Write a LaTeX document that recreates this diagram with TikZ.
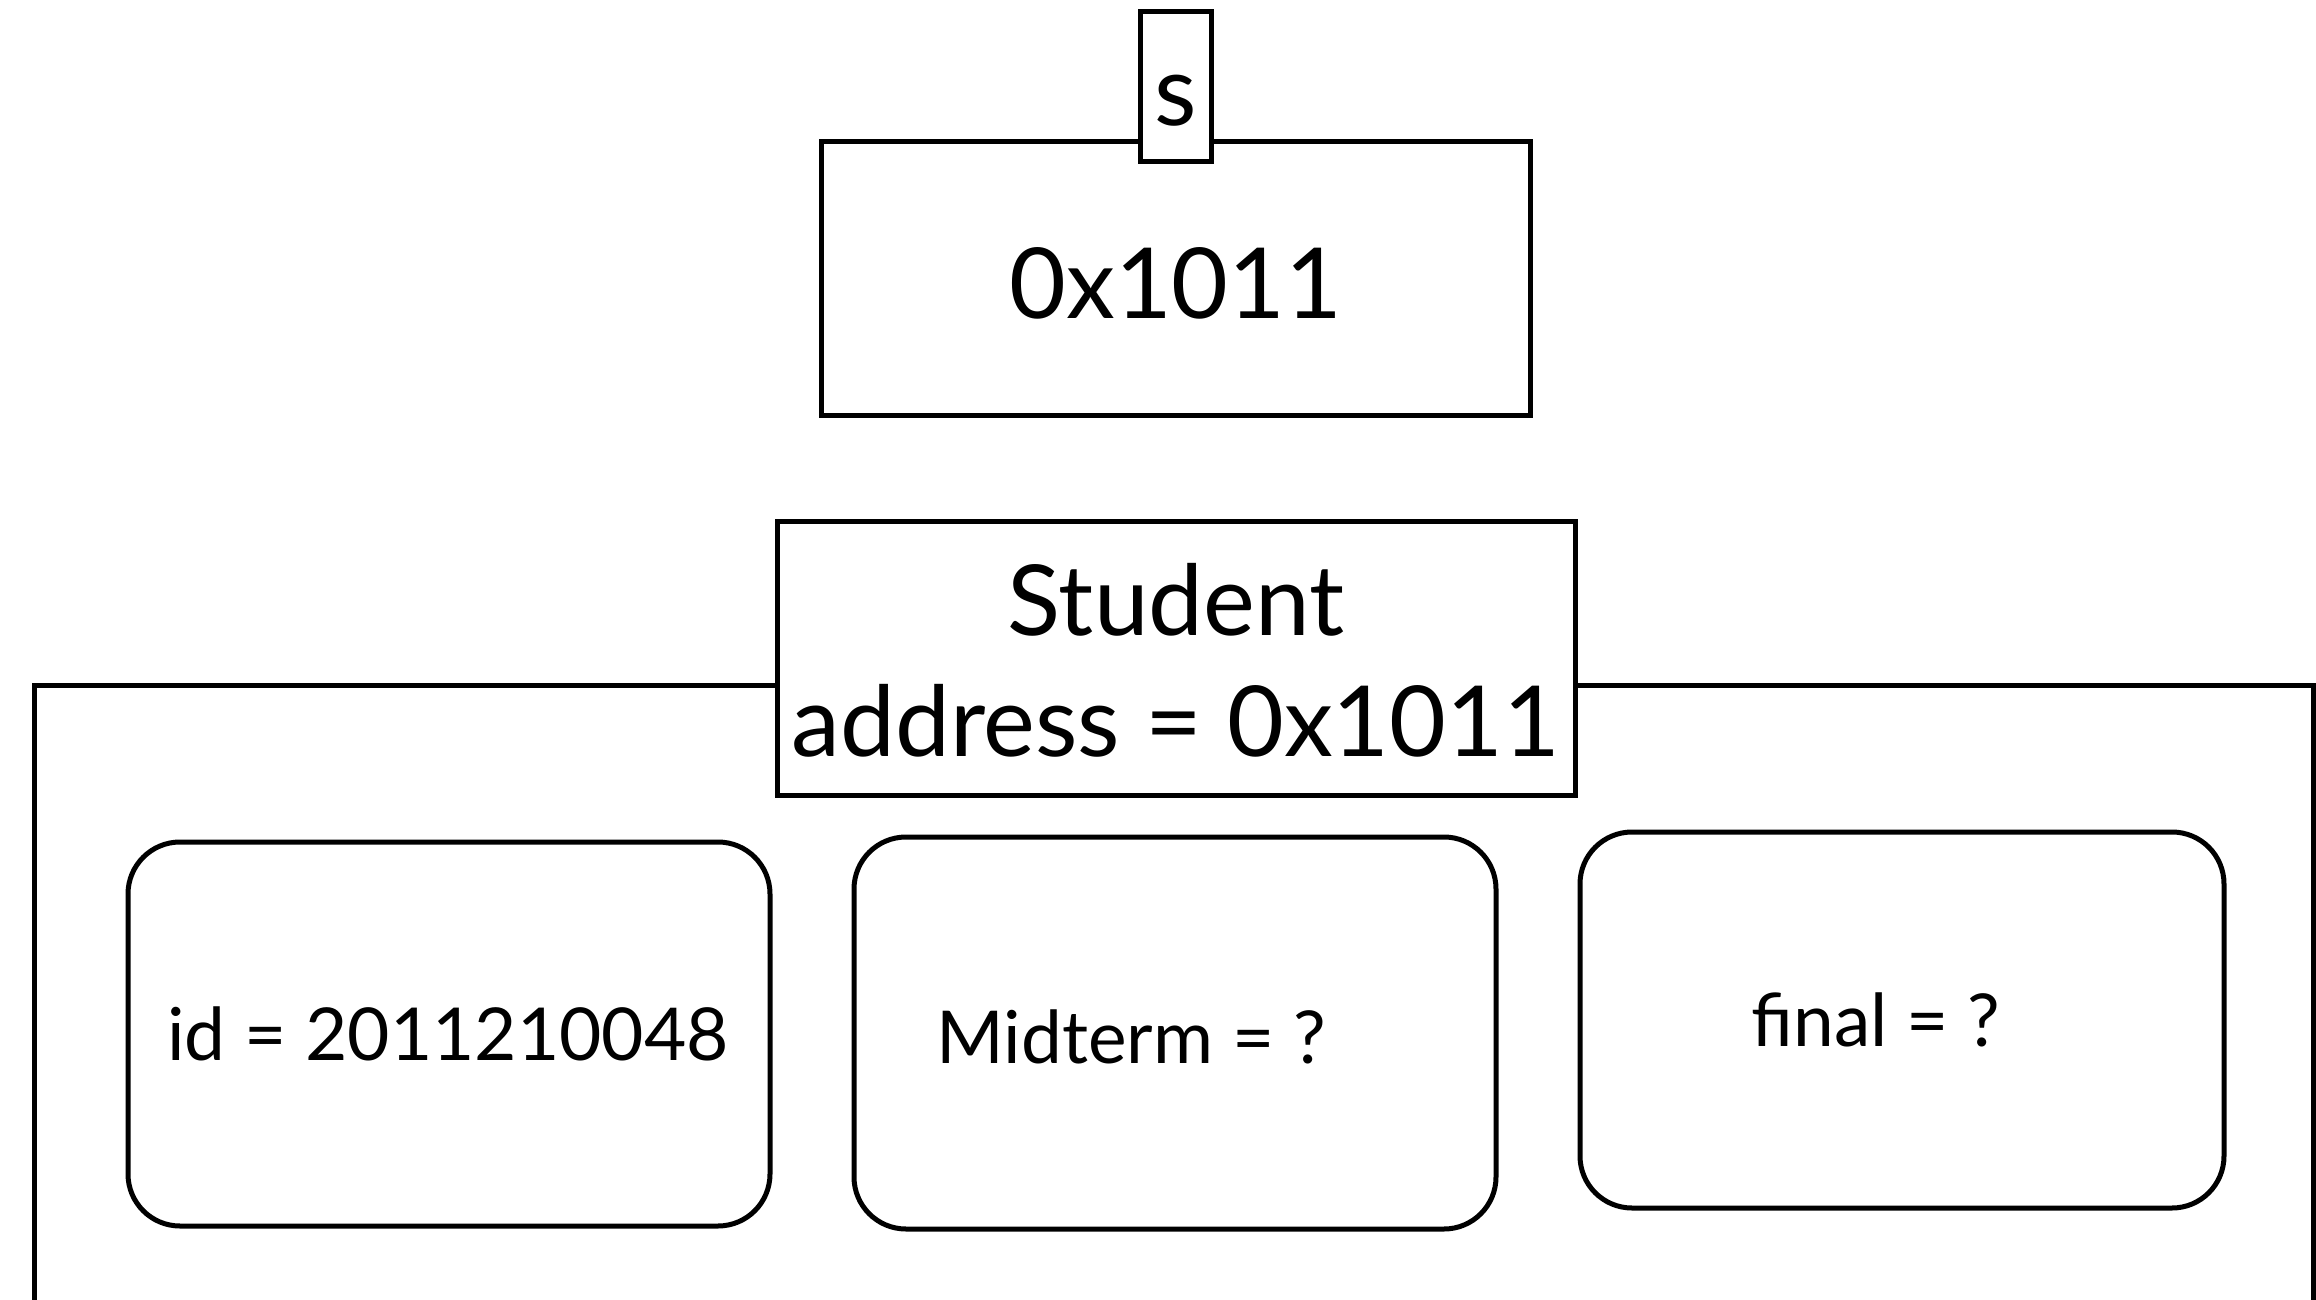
\documentclass[tikz,border=0pt]{standalone}
\usepackage{fontspec}
\setmainfont{Lato}
\begin{document}
\begin{tikzpicture}[x=1pt,y=-1pt,
  line width=5pt,
  plainbox/.style={draw=black,fill=white,rectangle,inner sep=0pt,line join=miter},
  fieldbox/.style={draw=black,fill=white,rectangle,rounded corners=52pt,inner sep=0pt},
  bigtxt/.style={font=\fontsize{98}{118}\selectfont,inner sep=0pt,anchor=base},
  fieldtxt/.style={font=\fontsize{73}{88}\selectfont,inner sep=0pt,anchor=base}]
\useasboundingbox (0,0) rectangle (2316,1300);
\clip (0,0) rectangle (2316,1300);

% reference variable s and the address it holds
\node[plainbox,minimum width=709pt,minimum height=273pt] (ptr) at (1175.5,278.5) {};
\node[plainbox,minimum width=71pt,minimum height=150pt] (sbox) at (1175.5,87) {};
\node[bigtxt] (slabel) at (1175.5,126) {s};
\node[bigtxt] (ptrval) at (1176,318) {0x1011};

% the Student object in memory
\draw (34,1330) |- (2313,685) -- (2313,1330);
\node[plainbox,minimum width=798pt,minimum height=274pt] (obj) at (1176,658) {};
\node[bigtxt] (objname) at (1176,635) {Student};
\node[bigtxt] (objaddr) at (1176,756) {address = 0x1011};

% its fields
\node[fieldbox,minimum width=642pt,minimum height=384pt] (fid) at (449,1034) {};
\node[fieldbox,minimum width=642pt,minimum height=392pt] (fmid) at (1175,1033) {};
\node[fieldbox,minimum width=644pt,minimum height=376pt] (ffin) at (1902,1020) {};
\node[fieldtxt] (tid) at (448,1060) {id = 2011210048};
\node[fieldtxt] (tmid) at (1131,1063) {Midterm = ?};
\node[fieldtxt] (tfin) at (1876,1046) {final = ?};
\end{tikzpicture}
\end{document}
